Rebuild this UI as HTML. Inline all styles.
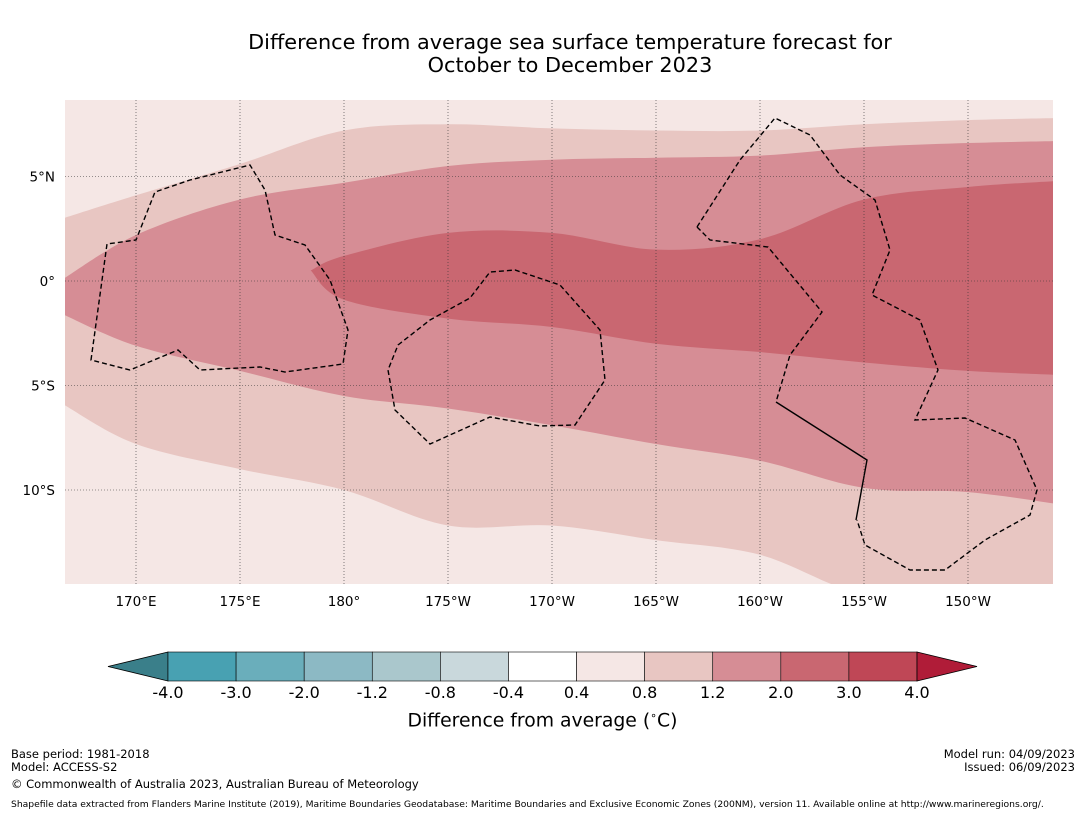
<!DOCTYPE html>
<html><head><meta charset="utf-8">
<style>
body{margin:0;background:#fff;font-family:"DejaVu Sans","Liberation Sans",sans-serif;}
#wrap{position:relative;width:1085px;height:816px;overflow:hidden;background:#fff;}
.t{position:absolute;white-space:nowrap;color:#000;}
</style></head><body>
<div id="wrap">
<div class="t" style="left:0;width:1140px;text-align:center;top:31px;font-size:20.8px;line-height:23px;">Difference from average sea surface temperature forecast for<br>October to December 2023</div>
<svg id="svg" width="1085" height="816" style="position:absolute;left:0;top:0"></svg>
<div class="t" style="left:0;width:1085px;text-align:center;top:709px;font-size:18.8px;">Difference from average (<sup style="font-size:11px">∘</sup>C)</div>
<div class="t" style="left:11px;top:748px;font-size:11.5px;line-height:13px;">Base period: 1981-2018<br>Model: ACCESS-S2</div>
<div class="t" style="left:11px;top:777px;font-size:11.5px;">© Commonwealth of Australia 2023, Australian Bureau of Meteorology</div>
<div class="t" style="left:11px;top:799px;font-size:9.2px;">Shapefile data extracted from Flanders Marine Institute (2019), Maritime Boundaries Geodatabase: Maritime Boundaries and Exclusive Economic Zones (200NM), version 11. Available online at http://www.marineregions.org/.</div>
<div class="t" style="right:10px;top:748px;font-size:11.5px;line-height:13px;text-align:right;">Model run: 04/09/2023<br>Issued: 06/09/2023</div>
</div>
<script>
const lonGrid=[166.5,170,175,180,185,190,195,200,205,210,214.5];
const band08North=[3.0,4.1,5.6,7.2,7.5,7.3,7.2,7.2,7.5,7.7,7.8];
const band08South=[-5.9,-7.8,-9.0,-10.0,-11.7,-11.7,-12.4,-13.1,-15,-15,-15];
const band12North=[0.1,2.2,3.9,4.7,5.5,5.8,5.9,6.0,6.4,6.6,6.7];
const band12South=[-1.6,-3.1,-4.3,-5.5,-6.1,-6.9,-7.8,-8.6,-9.9,-10.1,-10.7];
const lonGrid20=[178.4,180,185,190,195,200,205,210,214.5];
const band20North=[0.5,1.2,2.3,2.3,1.5,2.0,3.9,4.5,4.8];
const band20South=[0.5,-0.9,-1.8,-2.2,-3.0,-3.4,-3.9,-4.3,-4.5];
const lonTicks=[170,175,180,185,190,195,200,205,210];
const lonTickLabels=["170°E","175°E","180°","175°W","170°W","165°W","160°W","155°W","150°W"];
const latTicks=[5,0,-5,-10];
const latTickLabels=["5°N","0°","5°S","10°S"];
const cbLevels=["-4.0","-3.0","-2.0","-1.2","-0.8","-0.4","0.4","0.8","1.2","2.0","3.0","4.0"];
const cbColors=["#48a1b2","#6aaebb","#8cb9c4","#aac7cc","#c9d8dc","#ffffff","#f5e7e5","#e8c6c2","#d68d95","#c96771","#bf4756"];

const NS="http://www.w3.org/2000/svg";
const svg=document.getElementById('svg');
const X0=65,X1=1053,Y0=100,Y1=584;
const xS=lon=>136+(lon-170)*20.8;
const yS=lat=>281-lat*20.9;
function mk(t,a,p){const e=document.createElementNS(NS,t);for(const k in a)e.setAttribute(k,a[k]);(p||svg).appendChild(e);return e;}
function smooth(pts){let d="M"+pts[0][0]+","+pts[0][1];for(let i=0;i<pts.length-1;i++){const p0=pts[Math.max(i-1,0)],p1=pts[i],p2=pts[i+1],p3=pts[Math.min(i+2,pts.length-1)];d+=" C"+(p1[0]+(p2[0]-p0[0])/6)+","+(p1[1]+(p2[1]-p0[1])/6)+" "+(p2[0]-(p3[0]-p1[0])/6)+","+(p2[1]-(p3[1]-p1[1])/6)+" "+p2[0]+","+p2[1];}return d;}
function band(lons,n,s,color,name){
 const top=lons.map((l,i)=>[xS(l),yS(n[i])]);
 const bot=lons.map((l,i)=>[xS(l),yS(s[i])]).reverse();
 let d=smooth(top)+" L"+bot[0][0]+","+bot[0][1]+smooth(bot).replace(/^M[^C]*/,"")+"Z";
 const e=mk('path',{d:d,fill:color,'clip-path':'url(#mapclip)'});
 
 
}
const defs=mk('defs',{});
const cp=mk('clipPath',{id:'mapclip'},defs);mk('rect',{x:X0,y:Y0,width:X1-X0,height:Y1-Y0},cp);
const bg=mk('rect',{x:X0,y:Y0,width:X1-X0,height:Y1-Y0,fill:'#f5e7e5'});


band(lonGrid,band08North,band08South,'#e8c6c2','band-0.8-1.2');
band(lonGrid,band12North,band12South,'#d68d95','band-1.2-2.0');
band(lonGrid20,band20North,band20South,'#c96771','band-2.0-3.0');
const eez=["M91,360 L107,244 L136,240 L155,192 L190,180 L250,165 L265,190 L275,235 L305,245 L330,280 L348,330 L343,364 L285,372 L260,367 L200,370 L178,350 L130,370 Z",
"M398,345 L430,320 L470,298 L490,272 L515,270 L560,285 L600,330 L605,380 L575,425 L540,426 L490,417 L430,444 L395,410 L388,370 Z",
"M697,227 L740,160 L775,118 L810,135 L840,175 L875,200 L890,250 L872,295 L920,320 L938,370 L915,420 L965,418 L1015,440 L1037,490 L1030,515 L985,540 L945,570 L910,570 L865,545 L857,520",
"M697,227 L710,240 L768,247 L822,312 L790,355 L776,402"];
eez.forEach((d,i)=>{const e=mk('path',{d:d,fill:'none',stroke:'#000','stroke-width':1.4,'stroke-dasharray':'5,3','clip-path':'url(#mapclip)'});});
const sl=mk('path',{d:"M776,402 L820,430 L867,460 L856,520",fill:'none',stroke:'#000','stroke-width':1.4});


lonTicks.forEach((l,i)=>{const g=mk('line',{x1:xS(l),x2:xS(l),y1:Y0,y2:Y1,stroke:'#333','stroke-width':0.6,'stroke-dasharray':'1,2'});
 const t=mk('text',{x:xS(l),y:606,'text-anchor':'middle','font-size':13.5});t.textContent=lonTickLabels[i];});
latTicks.forEach((l,i)=>{const g=mk('line',{x1:X0,x2:X1,y1:yS(l),y2:yS(l),stroke:'#333','stroke-width':0.6,'stroke-dasharray':'1,2'});
 const t=mk('text',{x:55,y:yS(l)+5,'text-anchor':'end','font-size':13.5});t.textContent=latTickLabels[i];});
const cbX0=168,cbW=(917-168)/cbColors.length,cbY=652,cbH=29;
const lt=mk('polygon',{points:`108,${cbY+cbH/2} ${cbX0},${cbY} ${cbX0},${cbY+cbH}`,fill:'#3a7f8a',stroke:'#000','stroke-width':0.8});

cbColors.forEach((c,i)=>{const r=mk('rect',{x:cbX0+i*cbW,y:cbY,width:cbW,height:cbH,fill:c,stroke:'#000','stroke-width':0.6});});
const xe=cbX0+cbColors.length*cbW;
const rt=mk('polygon',{points:`${xe},${cbY} ${xe+60},${cbY+cbH/2} ${xe},${cbY+cbH}`,fill:'#b01c38',stroke:'#000','stroke-width':0.8});

cbLevels.forEach((l,i)=>{const t=mk('text',{x:cbX0+i*cbW,y:698,'text-anchor':'middle','font-size':16});t.textContent=l;});
</script>
</body></html>
